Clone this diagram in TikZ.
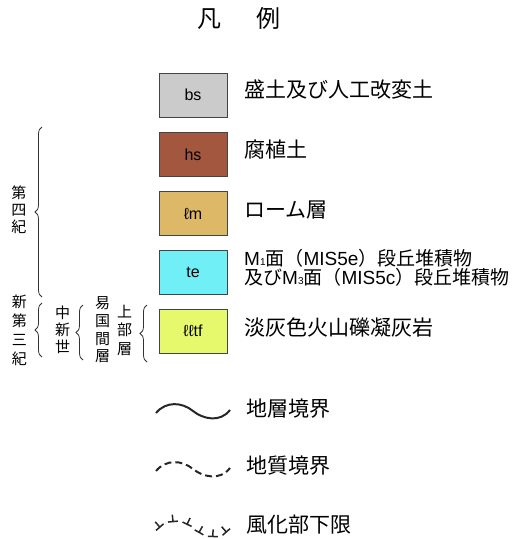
\documentclass[tikz,border=0pt]{standalone}
\usepackage{fontspec}
\newfontfamily\jp{Noto Sans CJK JP}
\newfontfamily\lat{Liberation Sans}
\usetikzlibrary{decorations.pathreplacing,decorations.markings}
\definecolor{cbs}{HTML}{CBCBCB}
\definecolor{chs}{HTML}{A3573F}
\definecolor{clm}{HTML}{DDB866}
\definecolor{cte}{HTML}{70EFF7}
\definecolor{cll}{HTML}{E6F96C}
\definecolor{cedge}{HTML}{444444}
\newcommand{\latx}[1]{{\lat #1}}
\newcommand{\subn}[1]{{\lat\fontsize{10}{10}\selectfont #1}}
\newcommand{\wmark}{\draw[line width=1.5pt,black!85] (-5pt,0)--(5pt,0) (0,0)--(0,7pt);}
\begin{document}
\begin{tikzpicture}[x=1pt,y=-1pt,
  unitbox/.style={rectangle,draw=cedge,line width=1pt,minimum width=68pt,minimum height=44pt,inner sep=0pt,font=\lat\fontsize{16}{16}\selectfont},
  lbl/.style={anchor=west,inner sep=0pt,text height=0.88em,text depth=0.12em,font=\jp\fontsize{21}{21}\selectfont},
  telbl/.style={anchor=west,inner sep=0pt,text height=0.88em,text depth=0.12em,font=\jp\fontsize{19}{19}\selectfont},
  ttl/.style={inner sep=0pt,text height=0.88em,text depth=0.12em,font=\jp\fontsize{24}{24}\selectfont},
  vt/.style={inner sep=0pt,text height=0.88em,text depth=0.12em,font=\jp\fontsize{15}{15}\selectfont},
  brc/.style={decorate,decoration={brace,amplitude=7pt},line width=0.8pt,draw=black!80},
  wave/.style={line width=2pt,draw=black!85},
  dwave/.style={line width=2pt,draw=black!85,dash pattern=on 7pt off 4pt}]
\useasboundingbox (0,0) rectangle (520,539);

% title
\node[ttl] (t1) at (209.5,23.5) {凡};
\node[ttl] (t2) at (268.5,24) {例};

% unit boxes
\node[unitbox,fill=cbs] (bs) at (193,95) {bs};
\node[unitbox,fill=chs] (hs) at (193,154.5) {hs};
\node[unitbox,fill=clm] (lm) at (193,213.5) {ℓm};
\node[unitbox,fill=cte] (te) at (193,272) {te};
\node[unitbox,fill=cll] (ll) at (193,331) {ℓℓtf};

% labels
\node[lbl] (lbs) at (244,94) {盛土及び人工改変土};
\node[lbl] (lhs) at (244,153.5) {腐植土};
\node[lbl] (llm) at (244,214) {ローム層};
\node[telbl] (lte1) at (244,262) {\latx{M}\subn{1}面（\latx{MIS5e}）段丘堆積物};
\node[telbl] (lte2) at (244,281) {及び\latx{M}\subn{3}面（\latx{MIS5c}）段丘堆積物};
\node[lbl] (lll) at (244,331.5) {淡灰色火山礫凝灰岩};

% vertical stratigraphic labels
\foreach \c [count=\i] in {第,四,紀}
  \node[vt] (qa\i) at (19,194.75+16.75*\i-16.75) {\c};
\foreach \c [count=\i] in {新,第,三,紀}
  \node[vt] (qb\i) at (19.5,303.75+19*\i-19) {\c};
\foreach \c [count=\i] in {中,新,世}
  \node[vt] (qc\i) at (62.5,314.75+16.75*\i-16.75) {\c};
\foreach \c [count=\i] in {易,国,間,層}
  \node[vt] (qd\i) at (102.5,304.75+17.8*\i-17.8) {\c};
\foreach \c [count=\i] in {上,部,層}
  \node[vt] (qe\i) at (124.5,313.75+18.25*\i-18.25) {\c};

% braces
\coordinate (b1s) at (42,297); \coordinate (b1e) at (42,127);
\coordinate (b2s) at (42,357); \coordinate (b2e) at (42,303);
\coordinate (b3s) at (83,360); \coordinate (b3e) at (83,305);
\coordinate (b4s) at (147,362); \coordinate (b4e) at (147,305);
\draw[brc] (b1s) -- (b1e);
\draw[brc] (b2s) -- (b2e);
\draw[brc] (b3s) -- (b3e);
\draw[brc] (b4s) -- (b4e);

% boundary symbols
\coordinate (s1) at (156,413); \coordinate (s2) at (193,411); \coordinate (s3) at (230,410);
\draw[wave] (s1) .. controls (166,401) and (182,402) .. (s2) .. controls (203,419) and (220,423) .. (s3);
\node[lbl] (ls) at (246,412.5) {地層境界};

\coordinate (d1) at (156,471); \coordinate (d2) at (193,469); \coordinate (d3) at (230,468);
\draw[dwave] (d1) .. controls (166,459) and (182,460) .. (d2) .. controls (203,477) and (220,481) .. (d3);
\node[lbl] (ld) at (246,470) {地質境界};

\coordinate (w1) at (157,530); \coordinate (w2) at (193,528); \coordinate (w3) at (229,529);
\path[decoration={markings,
   mark=at position 0.05 with {\wmark},
   mark=at position 0.23 with {\wmark},
   mark=at position 0.41 with {\wmark},
   mark=at position 0.59 with {\wmark},
   mark=at position 0.77 with {\wmark},
   mark=at position 0.95 with {\wmark}},
   decorate] (w1) .. controls (166,519) and (182,519) .. (w2) .. controls (203,537) and (220,541) .. (w3);
\node[lbl] (lw) at (246,529) {風化部下限};
\end{tikzpicture}
\end{document}
